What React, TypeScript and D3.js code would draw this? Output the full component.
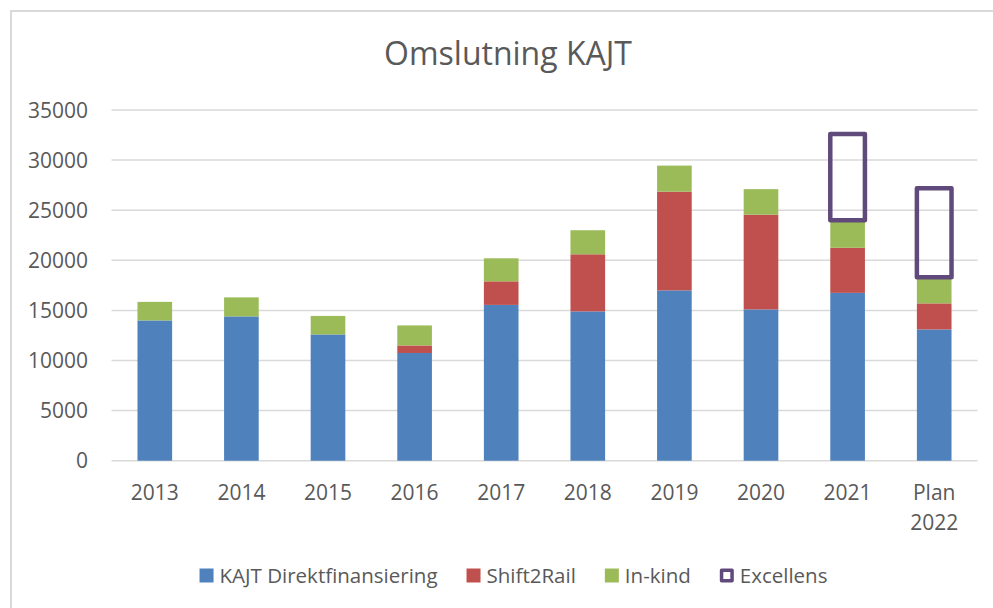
import React, { useEffect, useRef } from "react";
import * as d3 from "d3";

const categories = ["2013", "2014", "2015", "2016", "2017", "2018", "2019", "2020", "2021", "Plan 2022"];
const direkt = [14000, 14400, 12600, 10750, 15550, 14900, 17000, 15100, 16750, 13100];
const shift2rail = [0, 0, 0, 750, 2350, 5700, 9850, 9450, 4500, 2600];
const inkind = [1850, 1900, 1850, 2000, 2300, 2400, 2600, 2550, 2750, 2600];
const excellens = [0, 0, 0, 0, 0, 0, 0, 0, 8600, 8900];
const yTicks = [0, 5000, 10000, 15000, 20000, 25000, 30000, 35000];
const seriesNames = ["KAJT Direktfinansiering", "Shift2Rail", "In-kind", "Excellens"];
const colors = ["#4f81bd", "#c0504d", "#9bbb59", "#604a7b"];

const W = 993;
const H = 608;
const FONT = "'Open Sans', 'Liberation Sans', sans-serif";
const TEXT = "#595959";

export default function App() {
  const ref = useRef<SVGSVGElement | null>(null);

  useEffect(() => {
    const svg = d3.select(ref.current);
    svg.selectAll("*").remove();

    svg.append("rect").attr("x", 0).attr("y", 0).attr("width", W).attr("height", H).attr("fill", "#fff");
    svg.append("rect").attr("x", 11).attr("y", 11).attr("width", 1000).attr("height", 620)
      .attr("fill", "none").attr("stroke", "#d9d9d9").attr("stroke-width", 2);

    const x = d3.scaleBand<string>().domain(categories).range([111.5, 977.5]).paddingInner(0.6).paddingOuter(0.3);
    const y = d3.scaleLinear().domain([0, 35000]).range([460.7, 110]);

    // title
    svg.append("text").attr("x", 508).attr("y", 65).attr("text-anchor", "middle")
      .attr("font-family", FONT).attr("font-size", 32).attr("fill", TEXT).text("Omslutning KAJT");

    // gridlines
    svg.append("g").selectAll("line").data(yTicks).join("line")
      .attr("x1", 111.5).attr("x2", 977.5)
      .attr("y1", (d) => y(d)).attr("y2", (d) => y(d))
      .attr("stroke", "#d9d9d9").attr("stroke-width", 1.5);

    // y labels
    svg.append("g").selectAll("text").data(yTicks).join("text")
      .attr("x", 88).attr("y", (d) => y(d) + 7.5).attr("text-anchor", "end")
      .attr("font-family", FONT).attr("font-size", 21).attr("fill", TEXT)
      .text((d) => String(d));

    // stacked data
    const rows = categories.map((c, i) => ({ c, a: direkt[i], b: shift2rail[i], g: inkind[i], e: excellens[i] }));
    const stack = d3.stack<any>().keys(["a", "b", "g", "e"]);
    const layers = stack(rows);

    layers.forEach((layer, li) => {
      const g = svg.append("g");
      const data = layer.filter((d) => d[1] - d[0] > 0);
      if (li < 3) {
        g.selectAll("rect").data(data).join("rect")
          .attr("x", (d: any) => x(d.data.c)!)
          .attr("width", x.bandwidth())
          .attr("y", (d: any) => y(d[1]))
          .attr("height", (d: any) => y(d[0]) - y(d[1]))
          .attr("fill", colors[li]);
      } else {
        g.selectAll("rect").data(data).join("rect")
          .attr("x", (d: any) => x(d.data.c)!)
          .attr("width", x.bandwidth())
          .attr("y", (d: any) => y(d[1]))
          .attr("height", (d: any) => y(d[0]) - y(d[1]))
          .attr("fill", "none")
          .attr("stroke", colors[li]).attr("stroke-width", 4.5).attr("stroke-linejoin", "round");
      }
    });

    // x labels
    const xl = svg.append("g");
    categories.forEach((c) => {
      const lines = c.split(" ");
      const t = xl.append("text").attr("text-anchor", "middle")
        .attr("font-family", FONT).attr("font-size", 21).attr("fill", TEXT);
      lines.forEach((ln, k) => {
        t.append("tspan").attr("x", x(c)! + x.bandwidth() / 2).attr("y", 499.5 + k * 30).text(ln);
      });
    });

    // legend
    const lg = svg.append("g");
    const items = seriesNames.map((name, i) => {
      const gi = lg.append("g");
      if (i < 3) {
        gi.append("rect").attr("x", 0).attr("y", 568.5).attr("width", 14).attr("height", 14).attr("fill", colors[i]);
      } else {
        gi.append("rect").attr("x", 1.75).attr("y", 570.25).attr("width", 10.5).attr("height", 10.5)
          .attr("fill", "none").attr("stroke", colors[i]).attr("stroke-width", 3.5).attr("stroke-linejoin", "round");
      }
      const t = gi.append("text").attr("x", 20).attr("y", 582.5)
        .attr("font-family", FONT).attr("font-size", 20.5).attr("fill", TEXT).text(name);
      const w = 20 + (t.node() as SVGTextElement).getComputedTextLength();
      return { gi, w };
    });
    const gap = 29;
    const total = items.reduce((s, it) => s + it.w, 0) + gap * (items.length - 1);
    let cx = 513.5 - total / 2;
    items.forEach((it) => {
      it.gi.attr("transform", `translate(${cx},0)`);
      cx += it.w + gap;
    });
  }, []);

  return (
    <svg ref={ref} width={W} height={H} style={{ position: "absolute", left: 0, top: 0, display: "block" }} />
  );
}
